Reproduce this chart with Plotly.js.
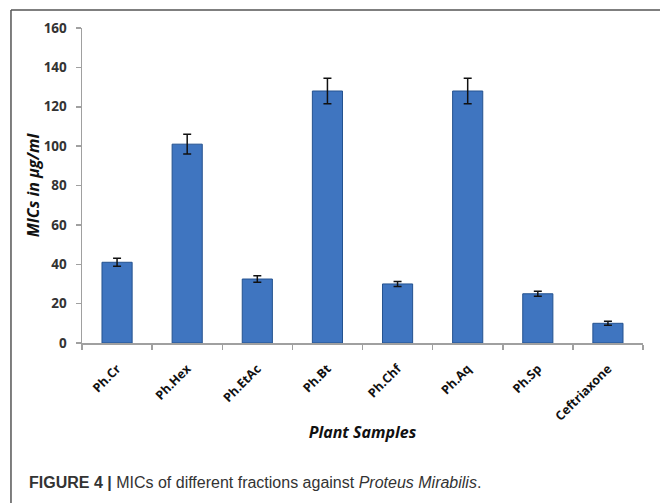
<!DOCTYPE html>
<html>
<head>
<meta charset="utf-8">
<script src="https://cdn.plot.ly/plotly-3.0.1.min.js"></script>
<style>
html,body{margin:0;padding:0;background:#fff;}
#chart{width:660px;height:503px;}
</style>
</head>
<body>
<div id="chart"></div>
<script>
const categories = ["Ph.Cr", "Ph.Hex", "Ph.EtAc", "Ph.Bt", "Ph.Chf", "Ph.Aq", "Ph.Sp", "Ceftriaxone"];
const micValues = [41, 101, 32.5, 128, 30, 128, 25, 10];
const micErrors = [2, 5, 1.6, 6.5, 1.3, 6.5, 1.3, 1];
const yTicks = [0, 20, 40, 60, 80, 100, 120, 140, 160];

const trace = {
  type: "bar",
  x: categories,
  y: micValues,
  width: 0.43,
  marker: {color: "#3f75c0", line: {color: "#24528f", width: 1}},
  error_y: {type: "data", array: micErrors, visible: true, color: "#111", thickness: 1.5, width: 4},
  hoverinfo: "x+y"
};

const layout = {
  width: 660, height: 503,
  margin: {l: 82, r: 17, t: 28, b: 160},
  paper_bgcolor: "#fff", plot_bgcolor: "#fff",
  showlegend: false,
  xaxis: {
    type: "category",
    tickson: "boundaries",
    ticks: "outside", ticklen: 5, tickcolor: "#a0a0a0", tickwidth: 1.5,
    showline: true, linecolor: "#a0a0a0", linewidth: 1.5,
    showgrid: false, zeroline: false,
    tickangle: -45,
    ticklabelstandoff: 12,
    tickfont: {family: "Open Sans", size: 12.5, color: "#111", weight: "bold"},
    title: {text: "<b><i>Plant Samples</i></b>", font: {family: "Open Sans", size: 16, color: "#111"}, standoff: 3},
    automargin: false,
    fixedrange: true
  },
  yaxis: {
    range: [0, 160],
    tickvals: yTicks,
    ticks: "outside", ticklen: 5, tickcolor: "#a0a0a0", tickwidth: 1.5,
    showline: true, linecolor: "#a0a0a0", linewidth: 1.5,
    showgrid: false, zeroline: false,
    tickfont: {family: "Open Sans", size: 13.5, color: "#333", weight: "bold"},
    ticklabelstandoff: 6,
    title: {text: "<b><i>MICs in μg/ml</i></b>", font: {family: "Open Sans", size: 16, color: "#111"}, standoff: 0},
    automargin: false,
    fixedrange: true
  },
  shapes: [
    {type: "line", xref: "paper", yref: "paper", x0: -0.1266, x1: -0.1266, y0: 1.0571, y1: -0.52, line: {color: "#555", width: 1.5}},
    {type: "line", xref: "paper", yref: "paper", x0: -0.1266, x1: 1.04, y0: 1.0571, y1: 1.0571, line: {color: "#555", width: 1.5}}
  ],
  annotations: [
    {xref: "paper", yref: "paper", x: -0.098, y: -0.4413, xanchor: "left", yanchor: "middle", showarrow: false,
     text: "<b>FIGURE 4 |</b> MICs of different fractions against <i>Proteus Mirabilis</i>.",
     font: {family: "Liberation Sans", size: 16, color: "#333"}}
  ]
};

Plotly.newPlot("chart", [trace], layout, {displayModeBar: false, staticPlot: true});
</script>
</body>
</html>
